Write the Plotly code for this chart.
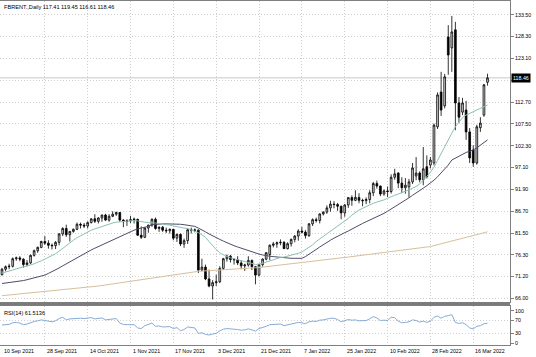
import plotly.graph_objects as go

# ---------------- data ----------------
dates = ["2021-09-10","2021-09-13","2021-09-14","2021-09-15","2021-09-16","2021-09-17",
"2021-09-20","2021-09-21","2021-09-22","2021-09-23","2021-09-24","2021-09-27","2021-09-28","2021-09-29","2021-09-30","2021-10-01",
"2021-10-04","2021-10-05","2021-10-06","2021-10-07","2021-10-08","2021-10-11","2021-10-12","2021-10-13","2021-10-14","2021-10-15",
"2021-10-18","2021-10-19","2021-10-20","2021-10-21","2021-10-22","2021-10-25","2021-10-26","2021-10-27","2021-10-28","2021-10-29",
"2021-11-01","2021-11-02","2021-11-03","2021-11-04","2021-11-05","2021-11-08","2021-11-09","2021-11-10","2021-11-11","2021-11-12",
"2021-11-15","2021-11-16","2021-11-17","2021-11-18","2021-11-19","2021-11-22","2021-11-23","2021-11-24","2021-11-25","2021-11-26",
"2021-11-29","2021-11-30","2021-12-01","2021-12-02","2021-12-03","2021-12-06","2021-12-07","2021-12-08","2021-12-09","2021-12-10",
"2021-12-13","2021-12-14","2021-12-15","2021-12-16","2021-12-17","2021-12-20","2021-12-21","2021-12-22","2021-12-23",
"2021-12-27","2021-12-28","2021-12-29","2021-12-30","2021-12-31","2022-01-03","2022-01-04","2022-01-05","2022-01-06","2022-01-07",
"2022-01-10","2022-01-11","2022-01-12","2022-01-13","2022-01-14","2022-01-17","2022-01-18","2022-01-19","2022-01-20","2022-01-21",
"2022-01-24","2022-01-25","2022-01-26","2022-01-27","2022-01-28","2022-01-31","2022-02-01","2022-02-02","2022-02-03","2022-02-04",
"2022-02-07","2022-02-08","2022-02-09","2022-02-10","2022-02-11","2022-02-14","2022-02-15","2022-02-16","2022-02-17","2022-02-18",
"2022-02-21","2022-02-22","2022-02-23","2022-02-24","2022-02-25","2022-02-28","2022-03-01","2022-03-02","2022-03-03","2022-03-04",
"2022-03-07","2022-03-08","2022-03-09","2022-03-10","2022-03-11","2022-03-14","2022-03-15","2022-03-16","2022-03-17","2022-03-18",
"2022-03-21","2022-03-22"]

opens = [71.6,72.9,73.5,73.6,75.4,75.6,75.3,74.0,74.4,76.2,77.3,78.1,79.5,79.1,78.6,78.5,
79.3,81.3,82.6,81.1,81.9,82.4,83.6,83.4,83.2,84.0,84.9,84.3,85.1,85.8,84.6,85.5,86.0,86.4,84.6,84.3,
84.4,84.6,84.8,81.0,80.5,82.7,83.4,84.8,82.6,82.9,82.2,82.05,82.4,80.3,81.2,78.9,79.7,82.3,82.25,82.2,
72.7,73.4,70.6,68.9,69.7,69.9,73.1,75.4,76.0,75.2,75.15,74.4,73.7,73.9,75.0,73.5,71.5,74.0,75.3,
76.4,78.6,78.9,79.2,79.3,77.8,78.98,80.0,80.8,81.99,81.75,80.9,83.7,84.7,84.5,86.06,86.5,87.5,88.4,88.3,
87.9,86.3,88.2,89.96,89.3,90.0,89.3,89.2,89.5,91.1,93.3,92.7,90.8,91.55,91.4,94.8,95.8,93.4,92.3,92.5,
93.7,95.1,95.8,94.2,97.3,97.7,98.2,106.8,115.1,111.8,128.2,125.6,129.9,112.5,110.3,110.8,105.6,101.3,98.2,106.6,
109.6,117.41]
highs = [73.2,73.8,74.2,75.7,75.9,76.0,75.5,75.1,76.4,77.6,78.3,79.7,80.8,79.8,79.0,79.6,
81.5,82.9,83.5,82.0,82.6,84.0,84.0,83.9,84.3,85.0,86.0,85.3,85.9,86.1,86.0,86.7,86.6,86.5,84.8,84.8,
85.6,85.2,84.9,83.1,82.9,83.5,85.0,85.2,83.1,83.2,82.8,82.6,82.5,81.4,81.4,80.2,82.6,82.8,82.6,82.4,
75.4,74.0,72.8,70.3,71.6,73.6,75.6,76.4,76.3,75.5,76.0,75.0,74.2,76.0,75.2,73.6,74.1,75.5,76.9,
78.8,79.4,79.5,80.0,79.6,79.3,80.2,81.0,82.4,83.0,82.2,83.9,85.0,85.2,86.2,86.7,88.1,89.2,89.1,88.7,
88.0,88.4,90.0,90.5,91.7,91.0,89.7,90.0,91.7,93.7,94.0,92.8,91.9,92.6,95.5,96.8,96.0,94.8,94.6,94.4,
98.2,99.6,96.2,102.0,100.0,99.6,107.6,115.0,119.9,119.4,131.0,133.2,131.8,113.9,113.7,113.0,106.5,102.4,107.3,109.1,
117.0,119.45]
lows = [71.4,72.4,72.9,73.3,74.9,74.8,73.3,73.6,74.1,75.9,76.8,77.9,78.7,77.8,77.6,77.7,
78.6,80.8,80.6,79.5,81.6,82.2,82.6,82.7,82.6,83.8,83.9,83.8,84.2,84.4,84.2,85.3,85.6,84.2,82.9,83.2,
83.9,83.8,80.8,80.1,80.3,81.6,83.0,82.3,81.8,81.8,81.5,81.4,79.8,79.4,78.4,78.0,78.9,81.4,81.7,72.0,
72.4,70.3,68.6,65.7,68.9,69.6,72.7,74.7,74.5,74.0,73.9,72.9,72.5,73.5,72.7,69.3,71.2,73.5,75.0,
75.1,78.1,78.0,78.6,77.7,77.6,78.3,79.3,79.7,81.4,80.2,80.6,83.2,84.0,83.8,85.7,86.1,86.6,87.4,86.8,
84.8,85.4,87.5,88.0,89.1,88.6,87.9,88.4,88.6,90.3,92.1,90.3,90.4,90.1,90.9,94.2,92.2,91.0,90.9,90.0,
93.2,94.1,93.6,92.9,94.5,96.9,97.6,106.3,109.4,111.2,119.2,119.9,106.0,107.8,109.6,103.7,98.2,97.3,97.8,105.6,
109.2,116.61]
closes = [72.9,73.5,73.6,75.4,75.6,75.3,74.0,74.4,76.2,77.3,78.1,79.5,79.1,78.6,78.5,79.3,
81.3,82.6,81.1,81.9,82.4,83.6,83.4,83.2,84.0,84.9,84.3,85.1,85.8,84.6,85.5,86.0,86.4,84.6,84.3,84.4,
84.7,84.8,81.0,80.5,82.7,83.4,84.8,82.6,82.9,82.2,82.05,82.4,80.3,81.2,78.9,79.7,82.3,82.25,82.2,72.7,
73.4,70.6,68.9,69.7,69.9,73.1,75.4,76.0,75.2,75.15,74.4,73.7,73.9,75.0,73.5,71.5,74.0,75.3,76.85,
78.6,78.9,79.2,79.3,77.8,78.98,80.0,80.8,81.99,81.75,80.9,83.7,84.7,84.5,86.06,86.5,87.5,88.4,88.3,87.9,
86.3,88.2,89.96,89.3,90.0,89.3,89.2,89.5,91.1,93.3,92.7,90.8,91.55,91.4,94.8,95.6,93.4,92.3,92.9,93.7,
97.0,95.8,94.2,96.8,94.9,98.9,107.2,114.4,110.8,118.7,123.9,129.4,112.5,109.1,112.5,105.6,99.4,98.2,106.8,107.7,
116.8,118.46]

ma_fast = [72.0,72.2,72.4,72.7,73.0,73.2,73.4,73.6,73.9,74.2,74.5,74.9,75.3,75.7,76.1,76.6,
77.2,77.9,78.6,79.2,79.8,80.4,80.9,81.4,81.8,82.2,82.5,82.8,83.1,83.4,83.7,83.9,84.1,84.2,84.3,84.4,
84.5,84.5,84.4,84.2,84.1,84.0,84.0,83.9,83.8,83.7,83.5,83.4,83.2,83.0,82.9,82.7,82.6,82.3,82.0,81.6,
81.1,80.5,79.5,78.5,77.6,76.8,76.3,75.9,75.6,75.4,75.2,75.0,74.7,74.5,74.3,74.0,74.1,74.3,74.6,
74.9,75.2,75.5,75.7,75.8,76.0,76.2,76.5,76.7,77.0,77.5,78.0,78.7,79.5,80.1,80.6,81.2,81.8,82.4,83.0,
83.6,84.3,85.0,85.8,86.5,87.0,87.4,87.8,88.3,88.6,88.9,89.1,89.4,89.8,90.2,90.5,90.8,91.1,91.4,91.8,
92.2,92.6,93.2,94.0,95.0,96.0,97.2,98.8,100.5,102.0,103.7,105.3,106.8,108.0,109.0,109.6,110.0,110.4,110.8,111.2,
111.6,112.0]
ma_slow = [69.5,69.6,69.7,69.8,70.0,70.1,70.2,70.4,70.6,70.8,71.0,71.2,71.5,71.9,72.3,72.7,
73.2,73.7,74.2,74.7,75.2,75.7,76.2,76.7,77.1,77.5,77.9,78.3,78.7,79.1,79.5,79.9,80.3,80.7,81.1,81.5,
81.9,82.2,82.5,82.7,82.9,83.1,83.5,83.6,83.7,83.7,83.7,83.7,83.7,83.6,83.6,83.5,83.4,83.3,83.1,82.7,
82.3,81.8,81.3,80.8,80.4,80.0,79.6,79.2,78.8,78.5,78.2,77.9,77.6,77.3,77.0,76.7,76.5,76.3,76.1,
76.0,75.9,75.8,75.7,75.6,75.5,75.5,75.5,75.5,75.5,75.9,76.4,77.0,77.6,78.2,78.8,79.3,79.8,80.3,80.8,
81.2,81.6,82.0,82.5,83.0,83.4,83.8,84.2,84.6,85.0,85.3,85.7,86.2,86.7,87.2,87.7,88.2,88.8,89.4,89.9,
90.5,91.0,91.6,92.2,92.8,93.4,94.1,94.9,95.8,96.7,97.7,98.9,99.4,99.9,100.3,100.7,101.0,101.3,101.8,102.4,
103.1,103.7]
ma200_idx = [0, 27, 55, 72, 97, 113, 120, 136]
ma200_val = [66.6, 68.9, 72.4, 73.3, 75.8, 77.5, 78.3, 81.8]

rsi = [56,58,58,63,64,62,57,59,64,67,69,72,70,67,66,69,
76,80,72,75,76,78,77,76,78,79,75,77,78,72,74,76,76,62,58,57,
57,57,47,45,54,57,62,52,53,50,50,51,45,48,38,42,50,48,47,30,
32,27,25,28,30,38,43,45,43,43,42,40,41,44,41,37,45,48,52,
57,58,59,59,54,57,59,61,64,63,60,66,68,67,71,72,75,77,77,73,
66,70,73,71,72,69,69,70,75,82,78,70,71,70,80,79,68,63,64,66,
72,70,65,68,64,68,80,84,77,83,85,88,64,61,63,57,47,44,52,54,
60,61.5136]

y_ticks = [66.00, 71.20, 76.30, 81.50, 86.70, 91.90, 97.10, 102.30, 107.50, 112.70, 117.90, 123.10, 128.30, 133.50]
y_ticktext = ["66.00","71.20","76.30","81.50","86.70","91.90","97.10","102.30","107.50","112.70","","123.10","128.30","133.50"]
date_tick_idx = [0, 12, 24, 36, 48, 60, 72, 84, 96, 108, 120, 132]
date_tick_text = ["10 Sep 2021","28 Sep 2021","14 Oct 2021","1 Nov 2021","17 Nov 2021","3 Dec 2021",
                  "21 Dec 2021","7 Jan 2022","25 Jan 2022","10 Feb 2022","28 Feb 2022","16 Mar 2022"]
rsi_ticks = [0, 30, 70, 100]
title_text = "FBRENT.,Daily 117.41 119.45 116.61 118.46"
rsi_label = "RSI(14) 61.5136"
last_price = 118.46

# ---------------- layout helpers ----------------
W, H = 536, 357
idx = list(range(len(dates)))
def py(px):  # pixel row -> paper y
    return 1 - px / H
def pxx(px):
    return px / W

PLOT_R = 510
FONT = "Liberation Sans"
GRID = "#cfcfcf"
GDASH = "1px,2px"

fig = go.Figure()
fig.add_trace(go.Candlestick(
    x=idx, open=opens, high=highs, low=lows, close=closes,
    increasing=dict(line=dict(color="#000000", width=0.8), fillcolor="#d8d8d8"),
    decreasing=dict(line=dict(color="#000000", width=0.8), fillcolor="#000000"),
    whiskerwidth=0, xaxis="x", yaxis="y", hoverinfo="skip", showlegend=False))
fig.add_trace(go.Scatter(x=ma200_idx, y=ma200_val, mode="lines",
    line=dict(color="#d8bf9a", width=1), xaxis="x", yaxis="y", showlegend=False))
fig.add_trace(go.Scatter(x=idx, y=ma_slow, mode="lines",
    line=dict(color="#4c4c6a", width=1), xaxis="x", yaxis="y", showlegend=False))
fig.add_trace(go.Scatter(x=idx, y=ma_fast, mode="lines",
    line=dict(color="#8cbfb2", width=1), xaxis="x", yaxis="y", showlegend=False))
fig.add_trace(go.Scatter(x=idx, y=rsi, mode="lines",
    line=dict(color="#86acd6", width=1), xaxis="x2", yaxis="y2", showlegend=False))

xr = [-2/3.57, (PLOT_R - 2)/3.57]
common_x = dict(range=xr, tickvals=date_tick_idx[1:], showticklabels=False,
                showgrid=True, gridcolor=GRID, griddash=GDASH, gridwidth=1,
                zeroline=False, showline=True, linecolor="#808080", mirror=True,
                ticks="", fixedrange=True)
fig.update_layout(
    width=W, height=H, margin=dict(l=0, r=0, t=0, b=0),
    paper_bgcolor="white", plot_bgcolor="white",
    font=dict(family=FONT, size=5.3, color="#000000"),
    xaxis=dict(domain=[0, pxx(PLOT_R)], anchor="y", rangeslider=dict(visible=False), **common_x),
    xaxis2=dict(domain=[0, pxx(PLOT_R)], anchor="y2", **common_x),
    yaxis=dict(domain=[py(302), py(1)], range=[66 - (302 - 298.2)/4.2, 133.5 + (14.7 - 1)/4.2],
               side="right", tickvals=y_ticks, ticktext=y_ticktext,
               showgrid=True, gridcolor=GRID, griddash=GDASH, zeroline=False,
               showline=True, linecolor="#808080", mirror=True,
               ticks="outside", ticklen=3, tickcolor="#808080", fixedrange=True,
               tickfont=dict(size=5.3, family=FONT, color="#000")),
    yaxis2=dict(domain=[py(345), py(306)], range=[-6, 115], side="right",
                tickvals=rsi_ticks, ticktext=[str(v) for v in rsi_ticks],
                showgrid=False, zeroline=False, showline=True, linecolor="#808080", mirror=True,
                ticks="outside", ticklen=3, tickcolor="#808080", fixedrange=True,
                tickfont=dict(size=5.3, family=FONT, color="#000")),
)

shapes = []
for lv in (30, 70):
    shapes.append(dict(type="line", xref="x2", yref="y2", x0=xr[0], x1=xr[1], y0=lv, y1=lv,
                       line=dict(color=GRID, width=1, dash=GDASH), layer="below"))
shapes.append(dict(type="line", xref="x", yref="y", x0=xr[0], x1=xr[1], y0=last_price, y1=last_price,
                   line=dict(color="#c8c8c8", width=1), layer="below"))
shapes.append(dict(type="rect", xref="paper", yref="paper", x0=0, x1=pxx(PLOT_R),
                   y0=py(305.5), y1=py(302.5), line=dict(width=0), fillcolor="#7a7a7a"))
fig.update_layout(shapes=shapes)

ann = []
ann.append(dict(text=title_text, xref="paper", yref="paper", x=pxx(2), y=py(7),
                xanchor="left", yanchor="middle", showarrow=False,
                font=dict(size=5.6, family=FONT, color="#000")))
ann.append(dict(text=rsi_label, xref="paper", yref="paper", x=pxx(2), y=py(313),
                xanchor="left", yanchor="middle", showarrow=False,
                font=dict(size=5.6, family=FONT, color="#000")))
ann.append(dict(text=f"{last_price:.2f}", xref="paper", yref="y", x=pxx(PLOT_R + 1), y=last_price,
                xanchor="left", yanchor="middle", showarrow=False, bgcolor="#000000",
                borderpad=1, font=dict(size=5.3, family=FONT, color="#ffffff")))
for i, t in zip(date_tick_idx, date_tick_text):
    ann.append(dict(text=t, xref="x2", yref="paper", x=i, y=py(351),
                    xanchor="left", yanchor="middle", showarrow=False,
                    font=dict(size=5.3, family=FONT, color="#000")))
fig.update_layout(annotations=ann)

fig.write_html("out.html",
               config={"displayModeBar": False, "staticPlot": True},
               post_script="document.body.style.margin='0';document.body.style.overflow='hidden';"
                           "document.documentElement.style.overflow='hidden';")
